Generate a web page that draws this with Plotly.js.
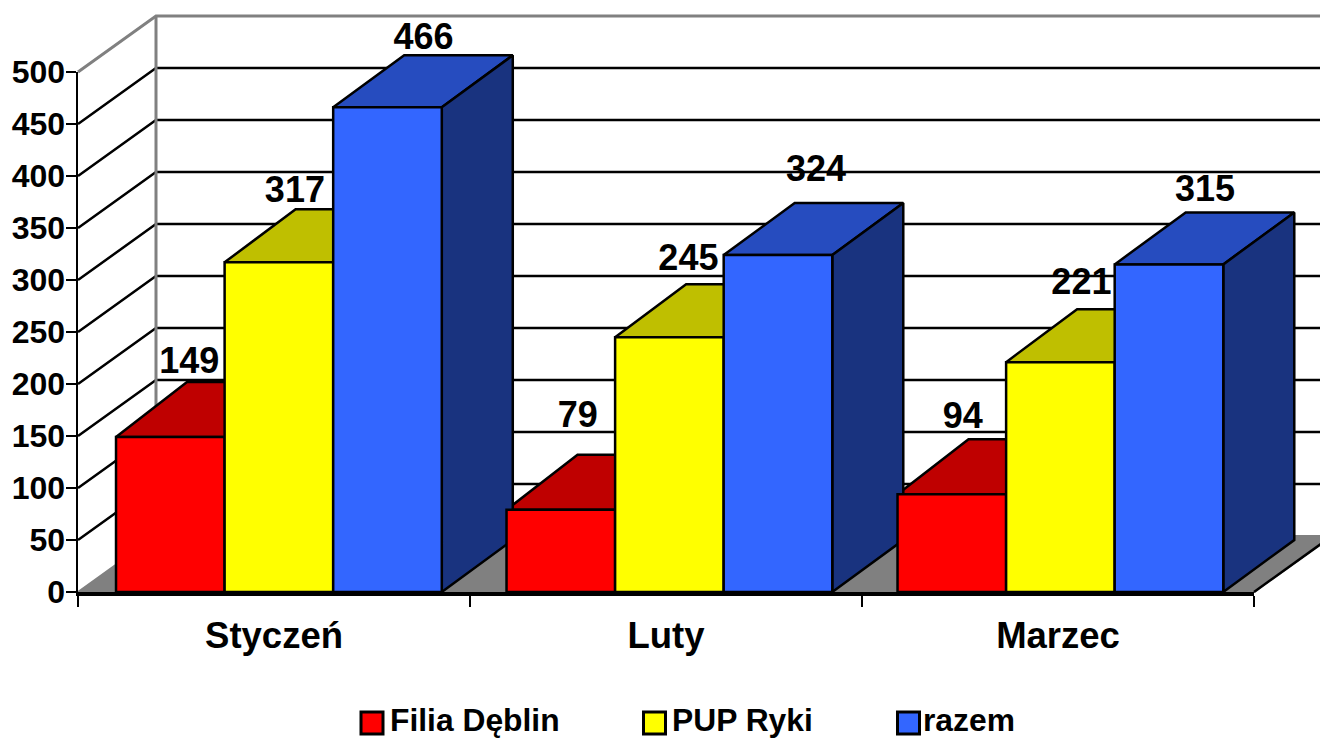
<!DOCTYPE html>
<html>
<head>
<meta charset="utf-8">
<script src="https://cdn.plot.ly/plotly-3.0.1.min.js"></script>
<style>html,body{margin:0;padding:0;background:#fff}#chart{width:1320px;height:739px}</style>
</head>
<body>
<div id="chart"></div>
<script>
// ---- data ----
const categories = ['Styczeń', 'Luty', 'Marzec'];
const seriesNames = ['Filia Dęblin', 'PUP Ryki', 'razem'];
const filiaDeblin = [149, 79, 94];
const pupRyki = [317, 245, 221];
const razem = [466, 324, 315];
const yTicks = [0, 50, 100, 150, 200, 250, 300, 350, 400, 450, 500];

// ---- style ----
const FONT = 'Liberation Sans, Arial, sans-serif';
const frontColors = ['#FF0000', '#FFFF00', '#3366FF'];
const topColors = ['#BF0000', '#BFBF00', '#264CBF'];
const sideColor = '#19337F';
const W = 1320, H = 739;
const PX_X = 1 / 392, PX_Y = 1 / 1.04;            // one pixel in axis units
const wallDx = 78 * PX_X, wallDy = 56 * PX_Y;     // depth of the floor
const barDx = 71 * PX_X;                          // depth of a bar
const barDyPx = [55, 53, 52];
const barWidth = 0.277;
const barOffsets = [-0.403, -0.126, 0.151];
const catNudge = [0, -1.5 * PX_X, -2.5 * PX_X];
const xMaxWall = 3 + wallDx;
const labelShiftX = [[19, 17, 11], [16, 19, 21], [36, 38, 36]];   // px
const labelShiftY = [[73, 92, 75], [69, 76, 77], [67, 83, 72]];   // px
const legendMarkX = [372, 654.5, 908.5], legendTextX = [390, 672, 923], legendY = 723, legendTextY = 723.4;   // px

const series = [filiaDeblin, pupRyki, razem];
const px2x = p => (p - 78) * PX_X;
const px2y = p => (592 - p) * PX_Y;
const barLeft = (s, i) => i + 0.5 + barOffsets[s] + catNudge[i];

function polyTrace(polys, fill, lineColor, lw) {
  const x = [], y = [];
  polys.forEach((p, i) => {
    if (i) { x.push(null); y.push(null); }
    p.forEach(q => { x.push(q[0]); y.push(q[1]); });
    x.push(p[0][0]); y.push(p[0][1]);
  });
  return {type: 'scatter', mode: 'lines', x, y, fill: 'toself', fillcolor: fill,
    line: {color: lineColor, width: lw, shape: 'linear'}, hoverinfo: 'skip',
    showlegend: false, xaxis: 'x', yaxis: 'y'};
}
function lineTrace(x, y, color, w) {
  return {type: 'scatter', mode: 'lines', x, y, line: {color, width: w},
    hoverinfo: 'skip', showlegend: false, xaxis: 'x', yaxis: 'y'};
}

const traces = [];

// floor
traces.push(polyTrace([[[0, 0], [wallDx, wallDy], [xMaxWall, wallDy], [3, 0]]], '#808080', '#808080', 2));
traces.push(lineTrace([3, xMaxWall], [0, wallDy], '#000', 2.5));

// grid lines on the side wall and the back wall
yTicks.filter(v => v > 0 && v < 500).forEach(v => {
  traces.push(lineTrace([0, wallDx, xMaxWall], [v, v + wallDy, v + wallDy], '#000', 2.5));
});
// wall frame
traces.push(lineTrace([0, wallDx, xMaxWall], [500, 500 + wallDy, 500 + wallDy], '#808080', 3));
traces.push(lineTrace([wallDx, wallDx], [wallDy, 500 + wallDy], '#808080', 3));

// top and side faces, behind the front faces
series.forEach((vals, s) => {
  const dy = barDyPx[s] * PX_Y;
  const tops = vals.map((v, i) => {
    const x0 = barLeft(s, i), x1 = x0 + barWidth;
    return [[x0, v], [x0 + barDx, v + dy], [x1 + barDx, v + dy], [x1, v]];
  });
  traces.push(polyTrace(tops, topColors[s], '#000', 2.5));
});
const sideDy = barDyPx[2] * PX_Y;
const sides = razem.map((v, i) => {
  const x1 = barLeft(2, i) + barWidth;
  return [[x1, 0], [x1 + barDx, sideDy], [x1 + barDx, v + sideDy], [x1, v]];
});
traces.push(polyTrace(sides, sideColor, '#000', 2.5));

// value labels
series.forEach((vals, s) => {
  traces.push({type: 'scatter', mode: 'text', hoverinfo: 'skip', showlegend: false,
    x: vals.map((v, i) => barLeft(s, i) + barWidth / 2 + labelShiftX[s][i] * PX_X),
    y: vals.map((v, i) => v + labelShiftY[s][i] * PX_Y),
    text: vals.map(String), textposition: 'middle center',
    textfont: {family: FONT, size: 36, color: '#000', weight: 700}, xaxis: 'x', yaxis: 'y'});
});

// legend
seriesNames.forEach((name, s) => {
  traces.push({type: 'scatter', mode: 'markers', name, hoverinfo: 'skip', showlegend: false,
    x: [px2x(legendMarkX[s])], y: [px2y(legendY)],
    marker: {symbol: 'square', size: 22, color: frontColors[s], line: {color: '#000', width: 3}},
    xaxis: 'x', yaxis: 'y'});
  traces.push({type: 'scatter', mode: 'text', name, hoverinfo: 'skip', showlegend: false,
    x: [px2x(legendTextX[s])], y: [px2y(legendTextY)], text: [name], textposition: 'middle right',
    textfont: {family: FONT, size: 31.8, color: '#000', weight: 700}, xaxis: 'x', yaxis: 'y'});
});

// front faces: real bars on the axes subplot
series.forEach((vals, s) => {
  traces.push({type: 'bar', x: categories, y: vals, name: seriesNames[s], xaxis: 'x2', yaxis: 'y2',
    width: barWidth, offset: vals.map((v, i) => barOffsets[s] + catNudge[i]), hoverinfo: 'skip',
    marker: {color: frontColors[s], line: {color: '#000', width: 2.5}}, showlegend: false});
});

const layout = {
  width: W, height: H, paper_bgcolor: '#fff', plot_bgcolor: 'rgba(0,0,0,0)',
  margin: {l: 0, r: 0, t: 0, b: 0}, showlegend: false, barmode: 'overlay',
  font: {family: FONT, color: '#000'},
  // full-page scene axes for the oblique walls, tops and sides
  xaxis: {type: 'linear', domain: [0, 1], range: [px2x(0), px2x(W)], visible: false, fixedrange: true},
  yaxis: {type: 'linear', domain: [0, 1], range: [px2y(H), px2y(0)], visible: false, fixedrange: true},
  // the chart's own axes
  xaxis2: {type: 'category', domain: [78 / W, 1254 / W], anchor: 'y2', categoryorder: 'array', categoryarray: categories,
    range: [-0.5, 2.5], tickson: 'boundaries', ticks: 'outside', ticklen: 11, tickwidth: 2.5, tickcolor: '#000',
    ticklabelstandoff: 8, showgrid: false, zeroline: false, showline: true, linecolor: '#000', linewidth: 4,
    tickfont: {family: FONT, size: 36.5, color: '#000', weight: 700}, fixedrange: true},
  yaxis2: {type: 'linear', domain: [(H - 592) / H, (H - 72) / H], anchor: 'x2', range: [0, 500], tickmode: 'array', tickvals: yTicks,
    ticks: 'outside', ticklen: 10, tickwidth: 2.5, tickcolor: '#000', ticklabelstandoff: -6,
    showgrid: false, zeroline: false, showline: true, linecolor: '#000', linewidth: 2.5,
    tickfont: {family: FONT, size: 32, color: '#000', weight: 700}, fixedrange: true}
};

Plotly.newPlot('chart', traces, layout, {displayModeBar: false, staticPlot: true});
</script>
</body>
</html>
